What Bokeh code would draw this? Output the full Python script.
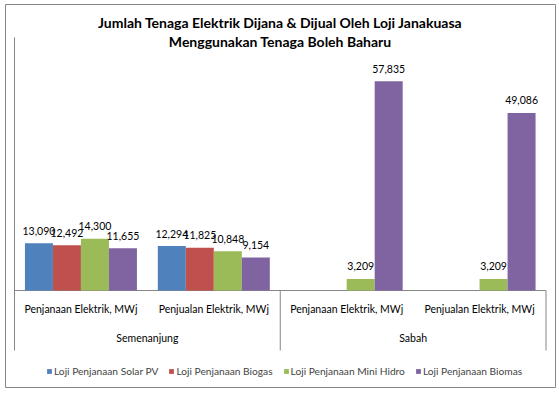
from bokeh.plotting import figure
from bokeh.models import ColumnDataSource, Range1d, Legend, LegendItem
from bokeh.core.properties import value
from bokeh.embed import file_html
from bokeh.resources import INLINE

# ---- data ----
title_lines = ["Jumlah Tenaga Elektrik Dijana & Dijual Oleh Loji Janakuasa",
               "Menggunakan Tenaga Boleh Baharu"]
categories = ["Penjanaan Elektrik, MWj", "Penjualan Elektrik, MWj",
              "Penjanaan Elektrik, MWj", "Penjualan Elektrik, MWj"]
regions = ["Semenanjung", "Sabah"]
series_names = ["Loji Penjanaan Solar PV", "Loji Penjanaan Biogas",
                "Loji Penjanaan Mini Hidro", "Loji Penjanaan Biomas"]
solar_pv = [13090, 12294, None, None]
biogas = [12492, 11825, None, None]
mini_hidro = [14300, 10848, 3209, 3209]
biomas = [11655, 9154, 57835, 49086]
colors = ["#4F81BD", "#C0504D", "#9BBB59", "#8064A2"]
y_max = 70000

# ---- geometry (page pixels) ----
W, H = 556, 388
FL, FT, FR, FB = 5, 4, 555, 387          # chart border / frame
AX_LEFT, AX_RIGHT = 14, 545.5            # category axis extent
ZERO_Y = 290                             # baseline
PX_PER_CAT = (AX_RIGHT - AX_LEFT) / len(categories)
X_START = (FL - AX_LEFT) / PX_PER_CAT
X_END = X_START + (FR - FL) / PX_PER_CAT
U_PER_PX = 276.5
Y_END = (ZERO_Y - FT) * U_PER_PX
Y_START = Y_END - (FB - FT) * U_PER_PX
BAR_W = 28 / PX_PER_CAT


def ypx(py):
    return Y_END - (py - FT) * U_PER_PX


FONT = value("Lato")
FS = "10.5px"
TXT = "#000000"
GRAY = "#868686"

p = figure(width=W, height=H, output_backend="svg", toolbar_location=None,
           x_range=Range1d(X_START, X_END), y_range=Range1d(Y_START, Y_END),
           x_axis_type=None, y_axis_type=None,
           min_border_left=FL, min_border_top=FT, min_border_right=W - FR,
           min_border_bottom=H - FB, title=None)
p.outline_line_color = GRAY
p.outline_line_width = 1
p.background_fill_color = "white"
p.border_fill_color = "white"

# title
p.text(x=[len(categories) / 2] * 2, y=[ypx(21.5), ypx(41)], text=title_lines,
       text_font=FONT, text_font_size="14px", text_font_style="bold",
       text_align="center", text_baseline="middle", text_color=TXT)

bottom_y = ypx(350)
# axis lines
p.segment(x0=[0], y0=[y_max], x1=[0], y1=[bottom_y], line_color=GRAY, line_width=1)
p.segment(x0=[0], y0=[0], x1=[len(categories)], y1=[0], line_color=GRAY, line_width=1)
n_per_region = len(categories) // len(regions)
sep_x = [n_per_region * (k + 1) for k in range(len(regions))]
p.segment(x0=sep_x, y0=[0] * len(sep_x), x1=sep_x, y1=[bottom_y] * len(sep_x),
          line_color=GRAY, line_width=1)

# bars
all_series = [solar_pv, biogas, mini_hidro, biomas]
items = []
nser = len(all_series)
for i, (name, vals, col) in enumerate(zip(series_names, all_series, colors)):
    xs = [c + 0.5 + (i - (nser - 1) / 2) * BAR_W for c in range(len(categories))]
    tops = [v if v is not None else float("nan") for v in vals]
    r = p.vbar(x=xs, top=tops, bottom=0, width=BAR_W, fill_color=col, line_color=None)
    items.append(LegendItem(label=name, renderers=[r]))
    lx = [x for x, v in zip(xs, vals) if v is not None]
    lv = [v for v in vals if v is not None]
    src = ColumnDataSource(dict(x=lx, y=lv, t=[f"{v:,}" for v in lv]))
    p.text(x="x", y="y", text="t", source=src, text_font=FONT, text_font_size=FS,
           text_align="center", text_baseline="middle", y_offset=-12.5, text_color=TXT)

# category labels
p.text(x=[c + 0.5 for c in range(len(categories))], y=[ypx(308)] * len(categories),
       text=categories, text_font=FONT, text_font_size=FS, text_align="center",
       text_baseline="middle", text_color=TXT)
p.text(x=[n_per_region * (k + 0.5) for k in range(len(regions))],
       y=[ypx(337)] * len(regions), text=regions, text_font=FONT,
       text_font_size=FS, text_align="center", text_baseline="middle", text_color=TXT)

legend = Legend(items=items, orientation="horizontal", location=(41, 10),
                glyph_width=6, glyph_height=6, label_text_font="Lato",
                label_text_font_size="10.2px", label_standoff=2, spacing=10,
                padding=0, margin=0, border_line_color=None,
                background_fill_alpha=0, label_height=12)
p.add_layout(legend)

open("out.html", "w").write(file_html(p, INLINE))
